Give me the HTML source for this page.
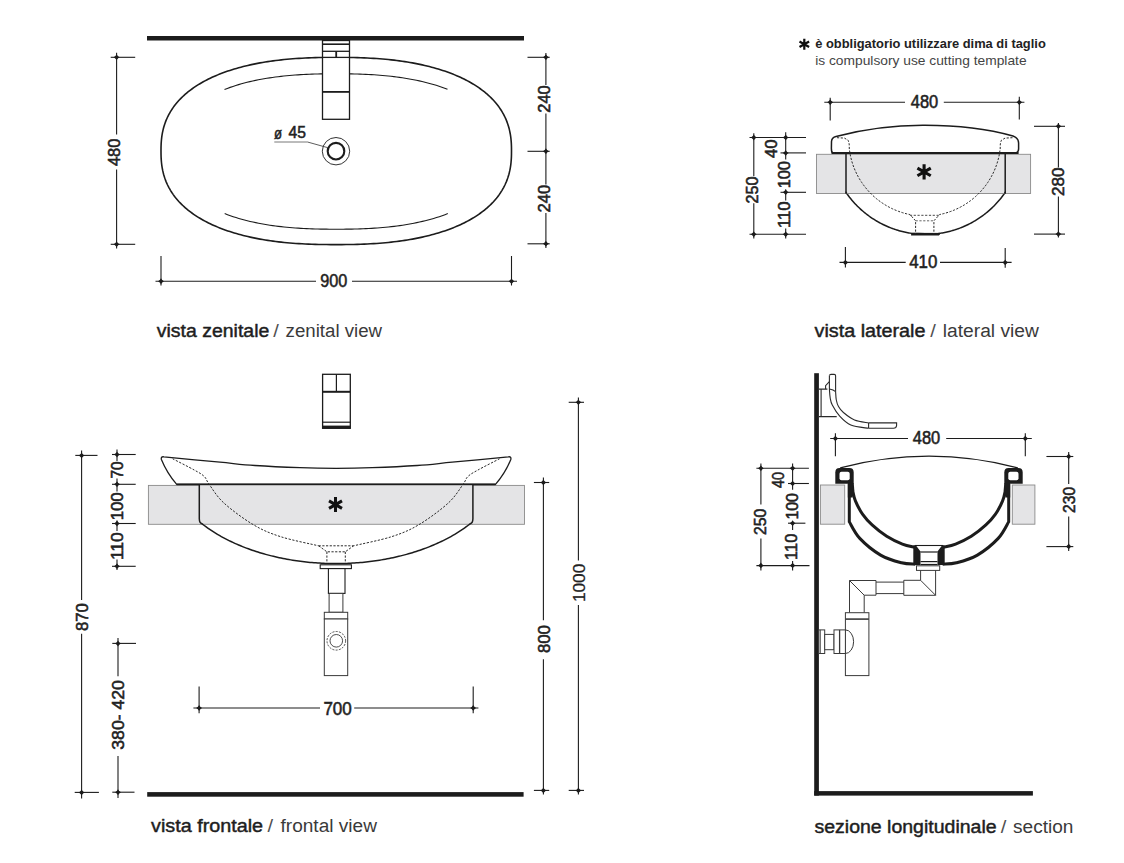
<!DOCTYPE html>
<html><head><meta charset="utf-8"><style>
html,body{margin:0;padding:0;background:#fff;}
svg{display:block;font-family:"Liberation Sans",sans-serif;}
</style></head><body>
<svg width="1124" height="863" viewBox="0 0 1124 863">
<rect width="1124" height="863" fill="#fff"/>
<rect x="147" y="36" width="377" height="4.5" fill="#1c1c1c"/>
<path d="M511.50,151.00 L511.48,153.94 L511.43,156.23 L511.34,158.34 L511.21,160.32 L511.05,162.22 L510.85,164.06 L510.62,165.84 L510.35,167.58 L510.04,169.28 L509.70,170.95 L509.32,172.58 L508.91,174.19 L508.46,175.76 L507.98,177.32 L507.46,178.85 L506.90,180.35 L506.31,181.84 L505.68,183.30 L505.02,184.75 L504.32,186.18 L503.59,187.59 L502.82,188.97 L502.02,190.35 L501.18,191.70 L500.31,193.04 L499.40,194.36 L498.46,195.66 L497.49,196.95 L496.48,198.22 L495.43,199.47 L494.35,200.71 L493.24,201.93 L492.09,203.13 L490.91,204.32 L489.70,205.49 L488.45,206.65 L487.17,207.79 L485.86,208.91 L484.51,210.02 L483.13,211.11 L481.71,212.19 L480.27,213.25 L478.79,214.29 L477.28,215.31 L475.74,216.32 L474.16,217.32 L472.55,218.29 L470.91,219.25 L469.24,220.19 L467.54,221.12 L465.80,222.03 L464.04,222.92 L462.24,223.80 L460.41,224.66 L458.56,225.50 L456.67,226.32 L454.74,227.13 L452.79,227.92 L450.81,228.69 L448.80,229.45 L446.76,230.18 L444.68,230.90 L442.58,231.61 L440.44,232.29 L438.28,232.96 L436.09,233.60 L433.86,234.23 L431.61,234.85 L429.32,235.44 L427.00,236.02 L424.66,236.58 L422.28,237.12 L419.87,237.64 L417.43,238.14 L414.96,238.62 L412.46,239.09 L409.92,239.54 L407.35,239.97 L404.75,240.38 L402.11,240.77 L399.44,241.14 L396.74,241.49 L393.99,241.83 L391.21,242.14 L388.39,242.44 L385.52,242.72 L382.62,242.98 L379.66,243.22 L376.66,243.44 L373.60,243.64 L370.48,243.82 L367.30,243.98 L364.04,244.13 L360.70,244.25 L357.26,244.36 L353.70,244.45 L349.99,244.51 L346.05,244.56 L341.75,244.59 L336.25,244.60 L330.75,244.59 L326.45,244.56 L322.51,244.51 L318.80,244.45 L315.24,244.36 L311.80,244.25 L308.46,244.13 L305.20,243.98 L302.02,243.82 L298.90,243.64 L295.84,243.44 L292.84,243.22 L289.88,242.98 L286.98,242.72 L284.11,242.44 L281.29,242.14 L278.51,241.83 L275.76,241.49 L273.06,241.14 L270.39,240.77 L267.75,240.38 L265.15,239.97 L262.58,239.54 L260.04,239.09 L257.54,238.62 L255.07,238.14 L252.63,237.64 L250.22,237.12 L247.84,236.58 L245.50,236.02 L243.18,235.44 L240.89,234.85 L238.64,234.23 L236.41,233.60 L234.22,232.96 L232.06,232.29 L229.92,231.61 L227.82,230.90 L225.74,230.18 L223.70,229.45 L221.69,228.69 L219.71,227.92 L217.76,227.13 L215.83,226.32 L213.94,225.50 L212.09,224.66 L210.26,223.80 L208.46,222.92 L206.70,222.03 L204.96,221.12 L203.26,220.19 L201.59,219.25 L199.95,218.29 L198.34,217.32 L196.76,216.32 L195.22,215.31 L193.71,214.29 L192.23,213.25 L190.79,212.19 L189.37,211.11 L187.99,210.02 L186.64,208.91 L185.33,207.79 L184.05,206.65 L182.80,205.49 L181.59,204.32 L180.41,203.13 L179.26,201.93 L178.15,200.71 L177.07,199.47 L176.02,198.22 L175.01,196.95 L174.04,195.66 L173.10,194.36 L172.19,193.04 L171.32,191.70 L170.48,190.35 L169.68,188.97 L168.91,187.59 L168.18,186.18 L167.48,184.75 L166.82,183.30 L166.19,181.84 L165.60,180.35 L165.04,178.85 L164.52,177.32 L164.04,175.76 L163.59,174.19 L163.18,172.58 L162.80,170.95 L162.46,169.28 L162.15,167.58 L161.88,165.84 L161.65,164.06 L161.45,162.22 L161.29,160.32 L161.16,158.34 L161.07,156.23 L161.02,153.94 L161.00,151.00 L161.02,148.06 L161.07,145.77 L161.16,143.66 L161.29,141.68 L161.45,139.78 L161.65,137.94 L161.88,136.16 L162.15,134.42 L162.46,132.72 L162.80,131.05 L163.18,129.42 L163.59,127.81 L164.04,126.24 L164.52,124.68 L165.04,123.15 L165.60,121.65 L166.19,120.16 L166.82,118.70 L167.48,117.25 L168.18,115.82 L168.91,114.41 L169.68,113.03 L170.48,111.65 L171.32,110.30 L172.19,108.96 L173.10,107.64 L174.04,106.34 L175.01,105.05 L176.02,103.78 L177.07,102.53 L178.15,101.29 L179.26,100.07 L180.41,98.87 L181.59,97.68 L182.80,96.51 L184.05,95.35 L185.33,94.21 L186.64,93.09 L187.99,91.98 L189.37,90.89 L190.79,89.81 L192.23,88.75 L193.71,87.71 L195.22,86.69 L196.76,85.68 L198.34,84.68 L199.95,83.71 L201.59,82.75 L203.26,81.81 L204.96,80.88 L206.70,79.97 L208.46,79.08 L210.26,78.20 L212.09,77.34 L213.94,76.50 L215.83,75.68 L217.76,74.87 L219.71,74.08 L221.69,73.31 L223.70,72.55 L225.74,71.82 L227.82,71.10 L229.92,70.39 L232.06,69.71 L234.22,69.04 L236.41,68.40 L238.64,67.77 L240.89,67.15 L243.18,66.56 L245.50,65.98 L247.84,65.42 L250.22,64.88 L252.63,64.36 L255.07,63.86 L257.54,63.38 L260.04,62.91 L262.58,62.46 L265.15,62.03 L267.75,61.62 L270.39,61.23 L273.06,60.86 L275.76,60.51 L278.51,60.17 L281.29,59.86 L284.11,59.56 L286.98,59.28 L289.88,59.02 L292.84,58.78 L295.84,58.56 L298.90,58.36 L302.02,58.18 L305.20,58.02 L308.46,57.87 L311.80,57.75 L315.24,57.64 L318.80,57.55 L322.51,57.49 L326.45,57.44 L330.75,57.41 L336.25,57.40 L341.75,57.41 L346.05,57.44 L349.99,57.49 L353.70,57.55 L357.26,57.64 L360.70,57.75 L364.04,57.87 L367.30,58.02 L370.48,58.18 L373.60,58.36 L376.66,58.56 L379.66,58.78 L382.62,59.02 L385.52,59.28 L388.39,59.56 L391.21,59.86 L393.99,60.17 L396.74,60.51 L399.44,60.86 L402.11,61.23 L404.75,61.62 L407.35,62.03 L409.92,62.46 L412.46,62.91 L414.96,63.38 L417.43,63.86 L419.87,64.36 L422.28,64.88 L424.66,65.42 L427.00,65.98 L429.32,66.56 L431.61,67.15 L433.86,67.77 L436.09,68.40 L438.28,69.04 L440.44,69.71 L442.58,70.39 L444.68,71.10 L446.76,71.82 L448.80,72.55 L450.81,73.31 L452.79,74.08 L454.74,74.87 L456.67,75.68 L458.56,76.50 L460.41,77.34 L462.24,78.20 L464.04,79.08 L465.80,79.97 L467.54,80.88 L469.24,81.81 L470.91,82.75 L472.55,83.71 L474.16,84.68 L475.74,85.68 L477.28,86.69 L478.79,87.71 L480.27,88.75 L481.71,89.81 L483.13,90.89 L484.51,91.98 L485.86,93.09 L487.17,94.21 L488.45,95.35 L489.70,96.51 L490.91,97.68 L492.09,98.87 L493.24,100.07 L494.35,101.29 L495.43,102.53 L496.48,103.78 L497.49,105.05 L498.46,106.34 L499.40,107.64 L500.31,108.96 L501.18,110.30 L502.02,111.65 L502.82,113.03 L503.59,114.41 L504.32,115.82 L505.02,117.25 L505.68,118.70 L506.31,120.16 L506.90,121.65 L507.46,123.15 L507.98,124.68 L508.46,126.24 L508.91,127.81 L509.32,129.42 L509.70,131.05 L510.04,132.72 L510.35,134.42 L510.62,136.16 L510.85,137.94 L511.05,139.78 L511.21,141.68 L511.34,143.66 L511.43,145.77 L511.48,148.06 L511.50,151.00 Z" fill="none" stroke="#1c1c1c" stroke-width="1.6"/>
<path d="M224.50,89.51 L227.32,88.41 L230.15,87.38 L232.97,86.41 L235.79,85.49 L238.61,84.63 L241.44,83.81 L244.26,83.05 L247.08,82.32 L249.91,81.64 L252.73,80.99 L255.55,80.38 L258.37,79.81 L261.20,79.27 L264.02,78.77 L266.84,78.30 L269.66,77.85 L272.49,77.44 L275.31,77.05 L278.13,76.69 L280.96,76.36 L283.78,76.05 L286.60,75.77 L289.42,75.50 L292.25,75.26 L295.07,75.05 L297.89,74.85 L300.72,74.67 L303.54,74.51 L306.36,74.37 L309.18,74.25 L312.01,74.15 L314.83,74.06 L317.65,73.98 L320.47,73.92 L323.30,73.88 L326.12,73.84 L328.94,73.82 L331.77,73.81 L334.59,73.80 L337.41,73.80 L340.23,73.80 L343.06,73.82 L345.88,73.84 L348.70,73.87 L351.53,73.91 L354.35,73.97 L357.17,74.04 L359.99,74.13 L362.82,74.23 L365.64,74.35 L368.46,74.49 L371.28,74.64 L374.11,74.82 L376.93,75.01 L379.75,75.22 L382.58,75.46 L385.40,75.72 L388.22,76.00 L391.04,76.30 L393.87,76.63 L396.69,76.99 L399.51,77.37 L402.34,77.78 L405.16,78.22 L407.98,78.68 L410.80,79.18 L413.63,79.71 L416.45,80.28 L419.27,80.88 L422.09,81.52 L424.92,82.20 L427.74,82.91 L430.56,83.68 L433.39,84.48 L436.21,85.34 L439.03,86.24 L441.85,87.20 L444.68,88.22 L447.50,89.31" fill="none" stroke="#1c1c1c" stroke-width="1.1"/>
<path d="M224.70,213.57 L227.52,214.66 L230.35,215.69 L233.17,216.66 L236.00,217.57 L238.82,218.43 L241.64,219.24 L244.47,220.01 L247.29,220.73 L250.12,221.41 L252.94,222.06 L255.76,222.66 L258.59,223.23 L261.41,223.77 L264.24,224.27 L267.06,224.74 L269.88,225.18 L272.71,225.59 L275.53,225.98 L278.36,226.33 L281.18,226.67 L284.01,226.97 L286.83,227.26 L289.65,227.52 L292.48,227.75 L295.30,227.97 L298.13,228.17 L300.95,228.34 L303.77,228.50 L306.60,228.64 L309.42,228.76 L312.25,228.86 L315.07,228.95 L317.89,229.02 L320.72,229.08 L323.54,229.13 L326.37,229.16 L329.19,229.18 L332.01,229.19 L334.84,229.20 L337.66,229.20 L340.49,229.19 L343.31,229.18 L346.13,229.16 L348.96,229.13 L351.78,229.08 L354.61,229.02 L357.43,228.95 L360.25,228.86 L363.08,228.76 L365.90,228.64 L368.73,228.50 L371.55,228.34 L374.37,228.17 L377.20,227.97 L380.02,227.75 L382.85,227.52 L385.67,227.26 L388.49,226.97 L391.32,226.67 L394.14,226.33 L396.97,225.98 L399.79,225.59 L402.62,225.18 L405.44,224.74 L408.26,224.27 L411.09,223.77 L413.91,223.23 L416.74,222.66 L419.56,222.06 L422.38,221.41 L425.21,220.73 L428.03,220.01 L430.86,219.24 L433.68,218.43 L436.50,217.57 L439.33,216.66 L442.15,215.69 L444.98,214.66 L447.80,213.57" fill="none" stroke="#1c1c1c" stroke-width="1.1"/>
<rect x="322.5" y="40.5" width="27" height="78.8" fill="#fff" stroke="#1c1c1c" stroke-width="1.3"/>
<line x1="322.5" y1="44.2" x2="349.5" y2="44.2" stroke="#1c1c1c" stroke-width="1.6" />
<line x1="322.5" y1="51.3" x2="349.5" y2="51.3" stroke="#1c1c1c" stroke-width="1.3" />
<line x1="322.5" y1="57.4" x2="349.5" y2="57.4" stroke="#1c1c1c" stroke-width="1.3" />
<line x1="336.2" y1="51.3" x2="336.2" y2="57.4" stroke="#1c1c1c" stroke-width="1.8" />
<line x1="322.5" y1="91.9" x2="349.5" y2="91.9" stroke="#1c1c1c" stroke-width="1.8" />
<circle cx="336" cy="151.2" r="13.7" fill="none" stroke="#1c1c1c" stroke-width="0.9"/>
<circle cx="336" cy="151.2" r="8.3" fill="none" stroke="#1c1c1c" stroke-width="2.1"/>
<line x1="274.3" y1="142" x2="307.5" y2="142" stroke="#555" stroke-width="0.8" />
<line x1="307.5" y1="142" x2="327.5" y2="147.6" stroke="#333" stroke-width="0.8" />
<text x="274" y="138.6" font-size="16" text-anchor="start" font-weight="normal" fill="#222" stroke="#222" stroke-width="0.55" textLength="8" lengthAdjust="spacingAndGlyphs" >ø</text>
<text x="297.3" y="138.2" font-size="16.96" text-anchor="middle" font-weight="normal" fill="#222" stroke="#222" stroke-width="0.55" textLength="17.4" lengthAdjust="spacingAndGlyphs" >45</text>
<line x1="116.6" y1="52.8" x2="116.6" y2="134.4" stroke="#1c1c1c" stroke-width="1.1" />
<line x1="116.6" y1="169.5" x2="116.6" y2="248.5" stroke="#1c1c1c" stroke-width="1.1" />
<line x1="110.7" y1="57.3" x2="135.2" y2="57.3" stroke="#1c1c1c" stroke-width="1.1" />
<line x1="110.7" y1="244.3" x2="135.2" y2="244.3" stroke="#1c1c1c" stroke-width="1.1" />
<path d="M113.6,57.3 Q115.69999999999999,56.4 116.6,54.3 Q117.5,56.4 119.6,57.3 Q117.5,58.199999999999996 116.6,60.3 Q115.69999999999999,58.199999999999996 113.6,57.3 Z" fill="#1c1c1c"/>
<circle cx="116.6" cy="57.3" r="1.5" fill="#1c1c1c"/>
<path d="M113.6,244.3 Q115.69999999999999,243.4 116.6,241.3 Q117.5,243.4 119.6,244.3 Q117.5,245.20000000000002 116.6,247.3 Q115.69999999999999,245.20000000000002 113.6,244.3 Z" fill="#1c1c1c"/>
<circle cx="116.6" cy="244.3" r="1.5" fill="#1c1c1c"/>
<text x="120.50000000000001" y="152.39999999999998" font-size="17" text-anchor="middle" font-weight="normal" fill="#222" stroke="#222" stroke-width="0.55" textLength="27.4" lengthAdjust="spacingAndGlyphs" transform="rotate(-90 120.50000000000001 152.39999999999998)" >480</text>
<line x1="545.9" y1="53" x2="545.9" y2="85" stroke="#1c1c1c" stroke-width="1.1" />
<line x1="545.9" y1="113.5" x2="545.9" y2="184.5" stroke="#1c1c1c" stroke-width="1.1" />
<line x1="545.9" y1="213" x2="545.9" y2="248" stroke="#1c1c1c" stroke-width="1.1" />
<line x1="527.5" y1="57.3" x2="549.7" y2="57.3" stroke="#1c1c1c" stroke-width="1.1" />
<path d="M542.9,57.3 Q545.0,56.4 545.9,54.3 Q546.8,56.4 548.9,57.3 Q546.8,58.199999999999996 545.9,60.3 Q545.0,58.199999999999996 542.9,57.3 Z" fill="#1c1c1c"/>
<circle cx="545.9" cy="57.3" r="1.5" fill="#1c1c1c"/>
<line x1="527.5" y1="151.3" x2="549.7" y2="151.3" stroke="#1c1c1c" stroke-width="1.1" />
<path d="M542.9,151.3 Q545.0,150.4 545.9,148.3 Q546.8,150.4 548.9,151.3 Q546.8,152.20000000000002 545.9,154.3 Q545.0,152.20000000000002 542.9,151.3 Z" fill="#1c1c1c"/>
<circle cx="545.9" cy="151.3" r="1.5" fill="#1c1c1c"/>
<line x1="527.5" y1="243.8" x2="549.7" y2="243.8" stroke="#1c1c1c" stroke-width="1.1" />
<path d="M542.9,243.8 Q545.0,242.9 545.9,240.8 Q546.8,242.9 548.9,243.8 Q546.8,244.70000000000002 545.9,246.8 Q545.0,244.70000000000002 542.9,243.8 Z" fill="#1c1c1c"/>
<circle cx="545.9" cy="243.8" r="1.5" fill="#1c1c1c"/>
<text x="549.8" y="99.0" font-size="17" text-anchor="middle" font-weight="normal" fill="#222" stroke="#222" stroke-width="0.55" textLength="27.4" lengthAdjust="spacingAndGlyphs" transform="rotate(-90 549.8 99.0)" >240</text>
<text x="549.8" y="198.7" font-size="17" text-anchor="middle" font-weight="normal" fill="#222" stroke="#222" stroke-width="0.55" textLength="27.6" lengthAdjust="spacingAndGlyphs" transform="rotate(-90 549.8 198.7)" >240</text>
<line x1="155.5" y1="281.3" x2="316" y2="281.3" stroke="#1c1c1c" stroke-width="1.1" />
<line x1="352" y1="281.3" x2="517" y2="281.3" stroke="#1c1c1c" stroke-width="1.1" />
<line x1="161" y1="256" x2="161" y2="285.5" stroke="#1c1c1c" stroke-width="1.1" />
<line x1="511.5" y1="256" x2="511.5" y2="285.5" stroke="#1c1c1c" stroke-width="1.1" />
<path d="M158.0,281.3 Q160.1,280.40000000000003 161,278.3 Q161.9,280.40000000000003 164.0,281.3 Q161.9,282.2 161,284.3 Q160.1,282.2 158.0,281.3 Z" fill="#1c1c1c"/>
<circle cx="161" cy="281.3" r="1.5" fill="#1c1c1c"/>
<path d="M508.5,281.3 Q510.6,280.40000000000003 511.5,278.3 Q512.4,280.40000000000003 514.5,281.3 Q512.4,282.2 511.5,284.3 Q510.6,282.2 508.5,281.3 Z" fill="#1c1c1c"/>
<circle cx="511.5" cy="281.3" r="1.5" fill="#1c1c1c"/>
<text x="333.85" y="286.8" font-size="18.33" text-anchor="middle" font-weight="normal" fill="#222" stroke="#222" stroke-width="0.55" textLength="27.1" lengthAdjust="spacingAndGlyphs" >900</text>
<text x="156.8" y="336.6" font-size="18" fill="#1e1e1e" stroke="#1e1e1e" stroke-width="0.45" stroke-linejoin="round" textLength="112.5" lengthAdjust="spacingAndGlyphs">vista zenitale</text>
<text x="273.2" y="336.6" font-size="18" fill="#505050" textLength="5.6" lengthAdjust="spacingAndGlyphs">/</text>
<text x="285.6" y="336.6" font-size="18" fill="#3a3a3a" textLength="96.5" lengthAdjust="spacingAndGlyphs">zenital view</text>
<path d="M804.30,38.74 L804.30,49.86 M799.49,41.52 L809.11,47.08 M799.49,47.08 L809.11,41.52" stroke="#111" stroke-width="2.24" fill="none"/>
<text x="815.2" y="48" font-size="12.8" text-anchor="start" font-weight="bold" fill="#222" textLength="230.6" lengthAdjust="spacingAndGlyphs" >è obbligatorio utilizzare dima di taglio</text>
<text x="815.2" y="64.8" font-size="13.2" text-anchor="start" font-weight="normal" fill="#444" textLength="211.4" lengthAdjust="spacingAndGlyphs" >is compulsory use cutting template</text>
<line x1="824.3" y1="102.3" x2="905" y2="102.3" stroke="#1c1c1c" stroke-width="1.1" />
<line x1="943.8" y1="102.3" x2="1024.4" y2="102.3" stroke="#1c1c1c" stroke-width="1.1" />
<line x1="830.2" y1="97.7" x2="830.2" y2="120.4" stroke="#1c1c1c" stroke-width="1.1" />
<line x1="1019.3" y1="96.7" x2="1019.3" y2="119.4" stroke="#1c1c1c" stroke-width="1.1" />
<path d="M827.2,102.3 Q829.3000000000001,101.39999999999999 830.2,99.3 Q831.1,101.39999999999999 833.2,102.3 Q831.1,103.2 830.2,105.3 Q829.3000000000001,103.2 827.2,102.3 Z" fill="#1c1c1c"/>
<circle cx="830.2" cy="102.3" r="1.5" fill="#1c1c1c"/>
<path d="M1016.3,102.3 Q1018.4,101.39999999999999 1019.3,99.3 Q1020.1999999999999,101.39999999999999 1022.3,102.3 Q1020.1999999999999,103.2 1019.3,105.3 Q1018.4,103.2 1016.3,102.3 Z" fill="#1c1c1c"/>
<circle cx="1019.3" cy="102.3" r="1.5" fill="#1c1c1c"/>
<text x="924.5" y="108.4" font-size="17.78" text-anchor="middle" font-weight="normal" fill="#222" stroke="#222" stroke-width="0.55" textLength="27.4" lengthAdjust="spacingAndGlyphs" >480</text>
<rect x="816.5" y="154.3" width="214.1" height="39.2" fill="#e4e4e6" stroke="#8a8a8a" stroke-width="0.9"/>
<path d="M846.00,192.38 L848.02,195.22 L850.04,197.86 L852.05,200.32 L854.07,202.63 L856.09,204.79 L858.11,206.83 L860.12,208.75 L862.14,210.57 L864.16,212.28 L866.18,213.91 L868.19,215.44 L870.21,216.90 L872.23,218.28 L874.25,219.58 L876.27,220.82 L878.28,221.99 L880.30,223.09 L882.32,224.14 L884.34,225.12 L886.35,226.05 L888.37,226.92 L890.39,227.74 L892.41,228.51 L894.43,229.22 L896.44,229.88 L898.46,230.50 L900.48,231.07 L902.50,231.59 L904.51,232.07 L906.53,232.50 L908.55,232.88 L910.57,233.22 L912.58,233.52 L914.60,233.77 L916.62,233.98 L918.64,234.15 L920.66,234.27 L922.67,234.36 L924.69,234.40 L926.71,234.39 L928.73,234.35 L930.74,234.26 L932.76,234.13 L934.78,233.96 L936.80,233.75 L938.82,233.49 L940.83,233.19 L942.85,232.84 L944.87,232.45 L946.89,232.02 L948.90,231.54 L950.92,231.01 L952.94,230.44 L954.96,229.82 L956.97,229.15 L958.99,228.43 L961.01,227.66 L963.03,226.84 L965.05,225.96 L967.06,225.03 L969.08,224.04 L971.10,222.99 L973.12,221.88 L975.13,220.70 L977.15,219.46 L979.17,218.15 L981.19,216.76 L983.21,215.30 L985.22,213.75 L987.24,212.12 L989.26,210.39 L991.28,208.57 L993.29,206.63 L995.31,204.58 L997.33,202.40 L999.35,200.08 L1001.36,197.60 L1003.38,194.95 L1005.40,192.08" fill="none" stroke="none"/>
<path d="M846.00,193.50 L846.20,192.67 L847.30,194.23 L848.40,195.73 L849.50,197.18 L850.60,198.56 L851.70,199.90 L852.80,201.19 L853.90,202.44 L855.00,203.64 L856.10,204.80 L857.20,205.93 L858.30,207.02 L859.40,208.08 L860.50,209.10 L861.60,210.09 L862.70,211.05 L863.80,211.98 L864.90,212.89 L866.00,213.77 L867.10,214.62 L868.20,215.45 L869.30,216.25 L870.40,217.03 L871.50,217.79 L872.60,218.52 L873.70,219.24 L874.80,219.93 L875.90,220.60 L877.00,221.25 L878.10,221.89 L879.20,222.50 L880.30,223.09 L881.40,223.67 L882.50,224.23 L883.60,224.77 L884.70,225.29 L885.80,225.80 L886.90,226.29 L888.00,226.76 L889.10,227.22 L890.20,227.66 L891.30,228.09 L892.40,228.50 L893.50,228.90 L894.60,229.28 L895.70,229.65 L896.80,230.00 L897.90,230.33 L899.00,230.66 L900.10,230.97 L901.20,231.26 L902.30,231.54 L903.40,231.81 L904.50,232.06 L905.60,232.30 L906.70,232.53 L907.80,232.74 L908.90,232.94 L910.00,233.13 L911.10,233.30 L939.10,234.20 L939.10,233.45 L940.22,233.28 L941.34,233.11 L942.46,232.91 L943.58,232.71 L944.70,232.49 L945.82,232.26 L946.94,232.01 L948.06,231.75 L949.18,231.47 L950.30,231.18 L951.42,230.88 L952.54,230.56 L953.66,230.22 L954.78,229.88 L955.91,229.51 L957.03,229.13 L958.15,228.74 L959.27,228.33 L960.39,227.90 L961.51,227.46 L962.63,227.01 L963.75,226.53 L964.87,226.04 L965.99,225.53 L967.11,225.01 L968.23,224.46 L969.35,223.90 L970.47,223.32 L971.59,222.72 L972.71,222.10 L973.83,221.47 L974.95,220.81 L976.07,220.13 L977.19,219.43 L978.31,218.71 L979.43,217.97 L980.55,217.20 L981.67,216.41 L982.79,215.60 L983.91,214.76 L985.03,213.90 L986.15,213.01 L987.27,212.09 L988.39,211.14 L989.52,210.17 L990.64,209.16 L991.76,208.12 L992.88,207.04 L994.00,205.93 L995.12,204.79 L996.24,203.60 L997.36,202.37 L998.48,201.10 L999.60,199.78 L1000.72,198.42 L1001.84,197.00 L1002.96,195.52 L1004.08,193.98 L1005.20,192.38 L1005.20,193.50" fill="#fff" stroke="#1c1c1c" stroke-width="1.5"/>
<line x1="911.1" y1="234.2" x2="939.1" y2="234.2" stroke="#1c1c1c" stroke-width="2.6" />
<line x1="846.7" y1="193.5" x2="1004.5" y2="193.5" stroke="#8a8a8a" stroke-width="0.9" />
<line x1="846" y1="153" x2="846" y2="193.5" stroke="#1c1c1c" stroke-width="1.5" />
<line x1="1005.2" y1="153" x2="1005.2" y2="193.5" stroke="#1c1c1c" stroke-width="1.5" />
<path d="M833,153 Q831.3,152.5 831.4,148 L831.5,141.5 Q831.8,137.5 836,136.5 Q880,125 925,125.3 Q975,125.5 1013,136 Q1018.6,138 1018.6,143 L1018.6,149 Q1018.5,152.6 1015,153 Z" fill="#fff" stroke="#1c1c1c" stroke-width="1.5"/>
<line x1="831.5" y1="153" x2="1018.6" y2="153" stroke="#1c1c1c" stroke-width="2.0" />
<path d="M837.00,137.70 L844.50,138.10 L848.30,140.50 L849.20,144.00 L849.30,149.13 L850.54,156.38 L851.77,161.22 L853.01,165.09 L854.25,168.38 L855.48,171.28 L856.72,173.88 L857.96,176.26 L859.19,178.45 L860.43,180.48 L861.67,182.39 L862.90,184.17 L864.14,185.85 L865.38,187.44 L866.61,188.95 L867.85,190.38 L869.09,191.75 L870.32,193.05 L871.56,194.29 L872.80,195.47 L874.03,196.60 L875.27,197.69 L876.51,198.73 L877.74,199.72 L878.98,200.67 L880.22,201.59 L881.46,202.46 L882.69,203.30 L883.93,204.11 L885.17,204.88 L886.40,205.62 L887.64,206.32 L888.88,207.00 L890.11,207.65 L891.35,208.27 L892.59,208.86 L893.82,209.42 L895.06,209.96 L896.30,210.47 L897.53,210.96 L898.77,211.42 L900.01,211.86 L901.24,212.27 L902.48,212.66 L903.72,213.03 L904.95,213.38 L906.19,213.70 L907.43,214.00 L908.66,214.28 L909.90,214.54 L915.60,220.80 L915.60,234.00" fill="none" stroke="#2a2a2a" stroke-width="1.0" stroke-dasharray="2.2,1.5"/>
<path d="M1012.50,137.70 L1005.00,138.10 L1001.20,140.50 L1000.30,144.00 L1000.20,149.13 L998.96,156.38 L997.73,161.22 L996.49,165.09 L995.25,168.38 L994.02,171.28 L992.78,173.88 L991.54,176.26 L990.31,178.45 L989.07,180.48 L987.83,182.39 L986.60,184.17 L985.36,185.85 L984.12,187.44 L982.89,188.95 L981.65,190.38 L980.41,191.75 L979.18,193.05 L977.94,194.29 L976.70,195.47 L975.47,196.60 L974.23,197.69 L972.99,198.73 L971.76,199.72 L970.52,200.67 L969.28,201.59 L968.04,202.46 L966.81,203.30 L965.57,204.11 L964.33,204.88 L963.10,205.62 L961.86,206.32 L960.62,207.00 L959.39,207.65 L958.15,208.27 L956.91,208.86 L955.68,209.42 L954.44,209.96 L953.20,210.47 L951.97,210.96 L950.73,211.42 L949.49,211.86 L948.26,212.27 L947.02,212.66 L945.78,213.03 L944.55,213.38 L943.31,213.70 L942.07,214.00 L940.84,214.28 L939.60,214.54 L933.90,220.80 L933.90,234.00" fill="none" stroke="#2a2a2a" stroke-width="1.0" stroke-dasharray="2.2,1.5"/>
<line x1="909.9" y1="215.3" x2="939.6" y2="215.3" stroke="#333" stroke-width="0.9" stroke-dasharray="2.2,1.6"/>
<line x1="915.6" y1="220.8" x2="933.9" y2="220.8" stroke="#555" stroke-width="0.9" stroke-dasharray="2.2,1.6"/>
<path d="M924.10,164.20 L924.10,179.60 M917.43,168.05 L930.77,175.75 M917.43,175.75 L930.77,168.05" stroke="#111" stroke-width="3.10" fill="none"/>
<line x1="753.8" y1="133.2" x2="753.8" y2="176.3" stroke="#1c1c1c" stroke-width="1.1" />
<line x1="753.8" y1="203.3" x2="753.8" y2="238.6" stroke="#1c1c1c" stroke-width="1.1" />
<line x1="749.5" y1="137.5" x2="806" y2="137.5" stroke="#1c1c1c" stroke-width="1.1" />
<line x1="749.5" y1="234.3" x2="806" y2="234.3" stroke="#1c1c1c" stroke-width="1.1" />
<path d="M750.8,137.5 Q752.9,136.6 753.8,134.5 Q754.6999999999999,136.6 756.8,137.5 Q754.6999999999999,138.4 753.8,140.5 Q752.9,138.4 750.8,137.5 Z" fill="#1c1c1c"/>
<circle cx="753.8" cy="137.5" r="1.5" fill="#1c1c1c"/>
<path d="M750.8,234.3 Q752.9,233.4 753.8,231.3 Q754.6999999999999,233.4 756.8,234.3 Q754.6999999999999,235.20000000000002 753.8,237.3 Q752.9,235.20000000000002 750.8,234.3 Z" fill="#1c1c1c"/>
<circle cx="753.8" cy="234.3" r="1.5" fill="#1c1c1c"/>
<text x="758.3" y="190.0" font-size="17" text-anchor="middle" font-weight="normal" fill="#222" stroke="#222" stroke-width="0.55" textLength="27.0" lengthAdjust="spacingAndGlyphs" transform="rotate(-90 758.3 190.0)" >250</text>
<line x1="785.7" y1="132.2" x2="785.7" y2="159.5" stroke="#1c1c1c" stroke-width="1.1" />
<line x1="785.7" y1="189.5" x2="785.7" y2="200.5" stroke="#1c1c1c" stroke-width="1.1" />
<line x1="785.7" y1="228.5" x2="785.7" y2="238.6" stroke="#1c1c1c" stroke-width="1.1" />
<line x1="780.5" y1="152.9" x2="806" y2="152.9" stroke="#1c1c1c" stroke-width="1.1" />
<line x1="780.5" y1="192.3" x2="806" y2="192.3" stroke="#1c1c1c" stroke-width="1.1" />
<path d="M782.7,137.5 Q784.8000000000001,136.6 785.7,134.5 Q786.6,136.6 788.7,137.5 Q786.6,138.4 785.7,140.5 Q784.8000000000001,138.4 782.7,137.5 Z" fill="#1c1c1c"/>
<circle cx="785.7" cy="137.5" r="1.5" fill="#1c1c1c"/>
<path d="M782.7,152.9 Q784.8000000000001,152.0 785.7,149.9 Q786.6,152.0 788.7,152.9 Q786.6,153.8 785.7,155.9 Q784.8000000000001,153.8 782.7,152.9 Z" fill="#1c1c1c"/>
<circle cx="785.7" cy="152.9" r="1.5" fill="#1c1c1c"/>
<path d="M782.7,192.3 Q784.8000000000001,191.4 785.7,189.3 Q786.6,191.4 788.7,192.3 Q786.6,193.20000000000002 785.7,195.3 Q784.8000000000001,193.20000000000002 782.7,192.3 Z" fill="#1c1c1c"/>
<circle cx="785.7" cy="192.3" r="1.5" fill="#1c1c1c"/>
<path d="M782.7,234.3 Q784.8000000000001,233.4 785.7,231.3 Q786.6,233.4 788.7,234.3 Q786.6,235.20000000000002 785.7,237.3 Q784.8000000000001,235.20000000000002 782.7,234.3 Z" fill="#1c1c1c"/>
<circle cx="785.7" cy="234.3" r="1.5" fill="#1c1c1c"/>
<text x="776.7" y="148.8" font-size="17" text-anchor="middle" font-weight="normal" fill="#222" stroke="#222" stroke-width="0.55" textLength="18.6" lengthAdjust="spacingAndGlyphs" transform="rotate(-90 776.7 148.8)" >40</text>
<text x="790.1000000000001" y="174.70000000000005" font-size="17" text-anchor="middle" font-weight="normal" fill="#222" stroke="#222" stroke-width="0.55" textLength="27.2" lengthAdjust="spacingAndGlyphs" transform="rotate(-90 790.1000000000001 174.70000000000005)" >100</text>
<text x="790.1000000000001" y="214.8" font-size="17" text-anchor="middle" font-weight="normal" fill="#222" stroke="#222" stroke-width="0.55" textLength="26.6" lengthAdjust="spacingAndGlyphs" transform="rotate(-90 790.1000000000001 214.8)" >110</text>
<line x1="1058.4" y1="122.9" x2="1058.4" y2="167.5" stroke="#1c1c1c" stroke-width="1.1" />
<line x1="1058.4" y1="196.5" x2="1058.4" y2="237.6" stroke="#1c1c1c" stroke-width="1.1" />
<line x1="1034" y1="126.3" x2="1065" y2="126.3" stroke="#1c1c1c" stroke-width="1.1" />
<line x1="1034" y1="234.1" x2="1065" y2="234.1" stroke="#1c1c1c" stroke-width="1.1" />
<path d="M1055.4,126.3 Q1057.5,125.39999999999999 1058.4,123.3 Q1059.3000000000002,125.39999999999999 1061.4,126.3 Q1059.3000000000002,127.2 1058.4,129.3 Q1057.5,127.2 1055.4,126.3 Z" fill="#1c1c1c"/>
<circle cx="1058.4" cy="126.3" r="1.5" fill="#1c1c1c"/>
<path d="M1055.4,234.1 Q1057.5,233.2 1058.4,231.1 Q1059.3000000000002,233.2 1061.4,234.1 Q1059.3000000000002,235.0 1058.4,237.1 Q1057.5,235.0 1055.4,234.1 Z" fill="#1c1c1c"/>
<circle cx="1058.4" cy="234.1" r="1.5" fill="#1c1c1c"/>
<text x="1064.2" y="181.8" font-size="17" text-anchor="middle" font-weight="normal" fill="#222" stroke="#222" stroke-width="0.55" textLength="28.6" lengthAdjust="spacingAndGlyphs" transform="rotate(-90 1064.2 181.8)" >280</text>
<line x1="839.5" y1="262.4" x2="905.7" y2="262.4" stroke="#1c1c1c" stroke-width="1.1" />
<line x1="940" y1="262.4" x2="1011.6" y2="262.4" stroke="#1c1c1c" stroke-width="1.1" />
<line x1="845.4" y1="247" x2="845.4" y2="267.5" stroke="#1c1c1c" stroke-width="1.1" />
<line x1="1005.2" y1="248" x2="1005.2" y2="267.7" stroke="#1c1c1c" stroke-width="1.1" />
<path d="M842.4,262.4 Q844.5,261.5 845.4,259.4 Q846.3,261.5 848.4,262.4 Q846.3,263.29999999999995 845.4,265.4 Q844.5,263.29999999999995 842.4,262.4 Z" fill="#1c1c1c"/>
<circle cx="845.4" cy="262.4" r="1.5" fill="#1c1c1c"/>
<path d="M1002.2,262.4 Q1004.3000000000001,261.5 1005.2,259.4 Q1006.1,261.5 1008.2,262.4 Q1006.1,263.29999999999995 1005.2,265.4 Q1004.3000000000001,263.29999999999995 1002.2,262.4 Z" fill="#1c1c1c"/>
<circle cx="1005.2" cy="262.4" r="1.5" fill="#1c1c1c"/>
<text x="923.3" y="268.4" font-size="17.78" text-anchor="middle" font-weight="normal" fill="#222" stroke="#222" stroke-width="0.55" textLength="28.2" lengthAdjust="spacingAndGlyphs" >410</text>
<text x="814.5" y="337.3" font-size="18" fill="#1e1e1e" stroke="#1e1e1e" stroke-width="0.45" stroke-linejoin="round" textLength="111" lengthAdjust="spacingAndGlyphs">vista laterale</text>
<text x="930.2" y="337.3" font-size="18" fill="#505050" textLength="5.6" lengthAdjust="spacingAndGlyphs">/</text>
<text x="942.8" y="337.3" font-size="18" fill="#3a3a3a" textLength="96" lengthAdjust="spacingAndGlyphs">lateral view</text>
<rect x="322.6" y="374.3" width="27.7" height="54" fill="#fff" stroke="#1c1c1c" stroke-width="1.3"/>
<line x1="336.4" y1="374.3" x2="336.4" y2="391" stroke="#1c1c1c" stroke-width="1.2" />
<line x1="322.6" y1="391.8" x2="350.3" y2="391.8" stroke="#1c1c1c" stroke-width="2.0" />
<line x1="322.6" y1="422.2" x2="350.3" y2="422.2" stroke="#1c1c1c" stroke-width="1.2" />
<rect x="322.6" y="425.6" width="27.7" height="2.9" fill="#1c1c1c"/>
<rect x="148.4" y="485.4" width="376.1" height="38.9" fill="#e4e4e6" stroke="#8a8a8a" stroke-width="0.9"/>
<path d="M199.3,484.4 L199.3,518.8 Q199.4,523.19 202.0,523.79 L203.93,525.27 L205.86,526.71 L207.79,528.09 L209.72,529.42 L211.65,530.70 L213.58,531.95 L215.51,533.15 L217.44,534.32 L219.37,535.44 L221.29,536.54 L223.22,537.59 L225.15,538.62 L227.08,539.62 L229.01,540.58 L230.94,541.52 L232.87,542.43 L234.80,543.31 L236.73,544.17 L238.66,545.00 L240.59,545.81 L242.52,546.59 L244.45,547.35 L246.38,548.09 L248.31,548.81 L250.24,549.50 L252.17,550.18 L254.10,550.83 L256.03,551.46 L257.96,552.08 L259.88,552.68 L261.81,553.25 L263.74,553.81 L265.67,554.35 L267.60,554.88 L269.53,555.38 L271.46,555.87 L273.39,556.34 L275.32,556.80 L277.25,557.24 L279.18,557.66 L281.11,558.07 L283.04,558.46 L284.97,558.84 L286.90,559.20 L288.83,559.54 L290.76,559.87 L292.69,560.19 L294.62,560.49 L296.55,560.78 L298.47,561.05 L300.40,561.31 L302.33,561.55 L304.26,561.78 L306.19,562.00 L308.12,562.20 L310.05,562.39 L311.98,562.56 L313.91,562.72 L315.84,562.87 L317.77,563.00 L319.70,563.12 L321.63,563.23 L323.56,563.32 L325.49,563.40 L327.42,563.47 L329.35,563.52 L331.28,563.56 L333.21,563.59 L335.14,563.60 L337.06,563.60 L338.99,563.59 L340.92,563.56 L342.85,563.52 L344.78,563.47 L346.71,563.40 L348.64,563.32 L350.57,563.23 L352.50,563.12 L354.43,563.00 L356.36,562.87 L358.29,562.72 L360.22,562.56 L362.15,562.39 L364.08,562.20 L366.01,562.00 L367.94,561.78 L369.87,561.55 L371.80,561.31 L373.73,561.05 L375.65,560.78 L377.58,560.49 L379.51,560.19 L381.44,559.87 L383.37,559.54 L385.30,559.20 L387.23,558.84 L389.16,558.46 L391.09,558.07 L393.02,557.66 L394.95,557.24 L396.88,556.80 L398.81,556.34 L400.74,555.87 L402.67,555.38 L404.60,554.88 L406.53,554.35 L408.46,553.81 L410.39,553.25 L412.32,552.68 L414.24,552.08 L416.17,551.46 L418.10,550.83 L420.03,550.18 L421.96,549.50 L423.89,548.81 L425.82,548.09 L427.75,547.35 L429.68,546.59 L431.61,545.81 L433.54,545.00 L435.47,544.17 L437.40,543.31 L439.33,542.43 L441.26,541.52 L443.19,540.58 L445.12,539.62 L447.05,538.62 L448.98,537.59 L450.91,536.54 L452.83,535.44 L454.76,534.32 L456.69,533.15 L458.62,531.95 L460.55,530.70 L462.48,529.42 L464.41,528.09 L466.34,526.71 L468.27,525.27 L470.20,523.79 Q472.8,523.19 472.9,518.8 L472.9,484.4 Z" fill="#fff" stroke="none"/>
<rect x="199.3" y="485.4" width="273.6" height="38.9" fill="#e4e4e6"/>
<line x1="199.3" y1="524.3" x2="472.9" y2="524.3" stroke="#8a8a8a" stroke-width="0.9" />
<path d="M199.3,484.4 L199.3,518.8 Q199.4,523.19 202.0,523.79 L203.93,525.27 L205.86,526.71 L207.79,528.09 L209.72,529.42 L211.65,530.70 L213.58,531.95 L215.51,533.15 L217.44,534.32 L219.37,535.44 L221.29,536.54 L223.22,537.59 L225.15,538.62 L227.08,539.62 L229.01,540.58 L230.94,541.52 L232.87,542.43 L234.80,543.31 L236.73,544.17 L238.66,545.00 L240.59,545.81 L242.52,546.59 L244.45,547.35 L246.38,548.09 L248.31,548.81 L250.24,549.50 L252.17,550.18 L254.10,550.83 L256.03,551.46 L257.96,552.08 L259.88,552.68 L261.81,553.25 L263.74,553.81 L265.67,554.35 L267.60,554.88 L269.53,555.38 L271.46,555.87 L273.39,556.34 L275.32,556.80 L277.25,557.24 L279.18,557.66 L281.11,558.07 L283.04,558.46 L284.97,558.84 L286.90,559.20 L288.83,559.54 L290.76,559.87 L292.69,560.19 L294.62,560.49 L296.55,560.78 L298.47,561.05 L300.40,561.31 L302.33,561.55 L304.26,561.78 L306.19,562.00 L308.12,562.20 L310.05,562.39 L311.98,562.56 L313.91,562.72 L315.84,562.87 L317.77,563.00 L319.70,563.12 L321.63,563.23 L323.56,563.32 L325.49,563.40 L327.42,563.47 L329.35,563.52 L331.28,563.56 L333.21,563.59 L335.14,563.60 L337.06,563.60 L338.99,563.59 L340.92,563.56 L342.85,563.52 L344.78,563.47 L346.71,563.40 L348.64,563.32 L350.57,563.23 L352.50,563.12 L354.43,563.00 L356.36,562.87 L358.29,562.72 L360.22,562.56 L362.15,562.39 L364.08,562.20 L366.01,562.00 L367.94,561.78 L369.87,561.55 L371.80,561.31 L373.73,561.05 L375.65,560.78 L377.58,560.49 L379.51,560.19 L381.44,559.87 L383.37,559.54 L385.30,559.20 L387.23,558.84 L389.16,558.46 L391.09,558.07 L393.02,557.66 L394.95,557.24 L396.88,556.80 L398.81,556.34 L400.74,555.87 L402.67,555.38 L404.60,554.88 L406.53,554.35 L408.46,553.81 L410.39,553.25 L412.32,552.68 L414.24,552.08 L416.17,551.46 L418.10,550.83 L420.03,550.18 L421.96,549.50 L423.89,548.81 L425.82,548.09 L427.75,547.35 L429.68,546.59 L431.61,545.81 L433.54,545.00 L435.47,544.17 L437.40,543.31 L439.33,542.43 L441.26,541.52 L443.19,540.58 L445.12,539.62 L447.05,538.62 L448.98,537.59 L450.91,536.54 L452.83,535.44 L454.76,534.32 L456.69,533.15 L458.62,531.95 L460.55,530.70 L462.48,529.42 L464.41,528.09 L466.34,526.71 L468.27,525.27 L470.20,523.79 Q472.8,523.19 472.9,518.8 L472.9,484.4" fill="none" stroke="#1c1c1c" stroke-width="1.5"/>
<path d="M163.90,456.80 C173.25,457.70 204.82,460.75 220.00,462.20 C235.18,463.65 241.67,464.58 255.00,465.50 C268.33,466.42 286.48,467.23 300.00,467.70 C313.52,468.17 324.07,468.30 336.10,468.30 C348.13,468.30 358.68,468.17 372.20,467.70 C385.72,467.23 403.87,466.42 417.20,465.50 C430.53,464.58 437.02,463.65 452.20,462.20 C467.38,460.75 498.95,457.70 508.30,456.80 Q511.5,456.3 510.8,459.5 Q505.2,473.2 495.5,484.4 L176.7,484.4 Q167.0,473.2 161.4,459.5 Q160.7,456.3 163.9,456.8 Z" fill="#fff" stroke="#1c1c1c" stroke-width="1.3" stroke-linejoin="round"/>
<line x1="176.7" y1="484.4" x2="495.5" y2="484.4" stroke="#1c1c1c" stroke-width="1.8" />
<path d="M172.70,458.80 C176.32,460.68 189.13,467.15 194.40,470.10 C199.67,473.05 201.83,474.12 204.30,476.50 C206.77,478.88 205.92,479.97 209.20,484.40 C212.48,488.83 216.62,496.37 224.00,503.10 C231.38,509.83 244.05,519.20 253.50,524.80 C262.95,530.40 269.85,533.20 280.70,536.70 C291.55,540.20 312.28,544.28 318.60,545.80" fill="none" stroke="#2a2a2a" stroke-width="1.0" stroke-dasharray="2.2,1.5"/>
<path d="M499.50,458.80 C495.88,460.68 483.07,467.15 477.80,470.10 C472.53,473.05 470.37,474.12 467.90,476.50 C465.43,478.88 466.28,479.97 463.00,484.40 C459.72,488.83 455.58,496.37 448.20,503.10 C440.82,509.83 428.15,519.20 418.70,524.80 C409.25,530.40 402.35,533.20 391.50,536.70 C380.65,540.20 359.92,544.28 353.60,545.80" fill="none" stroke="#2a2a2a" stroke-width="1.0" stroke-dasharray="2.2,1.5"/>
<path d="M318.6,545.8 L353.6,545.8 M318.6,545.8 L326.9,551.8 L345.3,551.8 L353.6,545.8 M326.9,551.8 L326.9,563 M345.3,551.8 L345.3,563" fill="none" stroke="#2a2a2a" stroke-width="1.0" stroke-dasharray="2.2,1.5"/>
<path d="M335.50,497.10 L335.50,512.10 M329.01,500.85 L341.99,508.35 M329.01,508.35 L341.99,500.85" stroke="#111" stroke-width="3.02" fill="none"/>
<rect x="320.2" y="564.8" width="31.2" height="3.8" fill="#fff" stroke="#1c1c1c" stroke-width="1.1"/>
<rect x="328.4" y="568.6" width="16.6" height="24.8" fill="#fff" stroke="#1c1c1c" stroke-width="1.1"/>
<rect x="329.1" y="593.4" width="13.8" height="18.9" fill="#fff" stroke="#3a3a3a" stroke-width="1.0"/>
<rect x="324.3" y="612.3" width="23.4" height="6.7" fill="#fff" stroke="#3a3a3a" stroke-width="1.0"/>
<rect x="324.3" y="619" width="23.4" height="56.6" fill="#fff" stroke="#3a3a3a" stroke-width="1.0"/>
<circle cx="336.3" cy="640.8" r="9.3" fill="none" stroke="#3a3a3a" stroke-width="0.9" stroke-dasharray="2,1.3"/>
<circle cx="336.3" cy="640.8" r="6.3" fill="none" stroke="#3a3a3a" stroke-width="0.9"/>
<line x1="117" y1="449.5" x2="117" y2="461" stroke="#1c1c1c" stroke-width="1.1" />
<line x1="117" y1="478.5" x2="117" y2="491.5" stroke="#1c1c1c" stroke-width="1.1" />
<line x1="117" y1="520.5" x2="117" y2="531" stroke="#1c1c1c" stroke-width="1.1" />
<line x1="117" y1="559.5" x2="117" y2="570" stroke="#1c1c1c" stroke-width="1.1" />
<line x1="112" y1="454.5" x2="135.7" y2="454.5" stroke="#1c1c1c" stroke-width="1.1" />
<path d="M114.0,454.5 Q116.1,453.6 117,451.5 Q117.9,453.6 120.0,454.5 Q117.9,455.4 117,457.5 Q116.1,455.4 114.0,454.5 Z" fill="#1c1c1c"/>
<circle cx="117" cy="454.5" r="1.5" fill="#1c1c1c"/>
<line x1="112" y1="484.3" x2="135.7" y2="484.3" stroke="#1c1c1c" stroke-width="1.1" />
<path d="M114.0,484.3 Q116.1,483.40000000000003 117,481.3 Q117.9,483.40000000000003 120.0,484.3 Q117.9,485.2 117,487.3 Q116.1,485.2 114.0,484.3 Z" fill="#1c1c1c"/>
<circle cx="117" cy="484.3" r="1.5" fill="#1c1c1c"/>
<line x1="112" y1="523.5" x2="135.7" y2="523.5" stroke="#1c1c1c" stroke-width="1.1" />
<path d="M114.0,523.5 Q116.1,522.6 117,520.5 Q117.9,522.6 120.0,523.5 Q117.9,524.4 117,526.5 Q116.1,524.4 114.0,523.5 Z" fill="#1c1c1c"/>
<circle cx="117" cy="523.5" r="1.5" fill="#1c1c1c"/>
<line x1="112" y1="566.3" x2="135.7" y2="566.3" stroke="#1c1c1c" stroke-width="1.1" />
<path d="M114.0,566.3 Q116.1,565.4 117,563.3 Q117.9,565.4 120.0,566.3 Q117.9,567.1999999999999 117,569.3 Q116.1,567.1999999999999 114.0,566.3 Z" fill="#1c1c1c"/>
<circle cx="117" cy="566.3" r="1.5" fill="#1c1c1c"/>
<text x="122.8" y="470.0" font-size="17" text-anchor="middle" font-weight="normal" fill="#222" stroke="#222" stroke-width="0.55" textLength="17.0" lengthAdjust="spacingAndGlyphs" transform="rotate(-90 122.8 470.0)" >70</text>
<text x="123.3" y="506.29999999999995" font-size="17" text-anchor="middle" font-weight="normal" fill="#222" stroke="#222" stroke-width="0.55" textLength="28.0" lengthAdjust="spacingAndGlyphs" transform="rotate(-90 123.3 506.29999999999995)" >100</text>
<text x="123.3" y="546.1999999999998" font-size="17" text-anchor="middle" font-weight="normal" fill="#222" stroke="#222" stroke-width="0.55" textLength="27.8" lengthAdjust="spacingAndGlyphs" transform="rotate(-90 123.3 546.1999999999998)" >110</text>
<line x1="81.6" y1="450.5" x2="81.6" y2="600" stroke="#1c1c1c" stroke-width="1.1" />
<line x1="81.6" y1="633.7" x2="81.6" y2="798.6" stroke="#1c1c1c" stroke-width="1.1" />
<line x1="75.3" y1="455.4" x2="97.5" y2="455.4" stroke="#1c1c1c" stroke-width="1.1" />
<line x1="74.7" y1="792.4" x2="98.9" y2="792.4" stroke="#1c1c1c" stroke-width="1.1" />
<path d="M78.6,455.4 Q80.69999999999999,454.5 81.6,452.4 Q82.5,454.5 84.6,455.4 Q82.5,456.29999999999995 81.6,458.4 Q80.69999999999999,456.29999999999995 78.6,455.4 Z" fill="#1c1c1c"/>
<circle cx="81.6" cy="455.4" r="1.5" fill="#1c1c1c"/>
<path d="M78.6,792.4 Q80.69999999999999,791.5 81.6,789.4 Q82.5,791.5 84.6,792.4 Q82.5,793.3 81.6,795.4 Q80.69999999999999,793.3 78.6,792.4 Z" fill="#1c1c1c"/>
<circle cx="81.6" cy="792.4" r="1.5" fill="#1c1c1c"/>
<text x="87.50000000000001" y="617.0" font-size="17" text-anchor="middle" font-weight="normal" fill="#222" stroke="#222" stroke-width="0.55" textLength="27.8" lengthAdjust="spacingAndGlyphs" transform="rotate(-90 87.50000000000001 617.0)" >870</text>
<line x1="118" y1="638" x2="118" y2="676.3" stroke="#1c1c1c" stroke-width="1.1" />
<line x1="118" y1="756" x2="118" y2="798" stroke="#1c1c1c" stroke-width="1.1" />
<line x1="112.3" y1="643.4" x2="136" y2="643.4" stroke="#1c1c1c" stroke-width="1.1" />
<line x1="112.3" y1="792.2" x2="134.5" y2="792.2" stroke="#1c1c1c" stroke-width="1.1" />
<path d="M115.0,643.4 Q117.1,642.5 118,640.4 Q118.9,642.5 121.0,643.4 Q118.9,644.3 118,646.4 Q117.1,644.3 115.0,643.4 Z" fill="#1c1c1c"/>
<circle cx="118" cy="643.4" r="1.5" fill="#1c1c1c"/>
<path d="M115.0,792.2 Q117.1,791.3000000000001 118,789.2 Q118.9,791.3000000000001 121.0,792.2 Q118.9,793.1 118,795.2 Q117.1,793.1 115.0,792.2 Z" fill="#1c1c1c"/>
<circle cx="118" cy="792.2" r="1.5" fill="#1c1c1c"/>
<text x="123.89999999999999" y="714.9000000000001" font-size="17" text-anchor="middle" font-weight="normal" fill="#222" stroke="#222" stroke-width="0.55" textLength="69.6" lengthAdjust="spacingAndGlyphs" transform="rotate(-90 123.89999999999999 714.9000000000001)" >380- 420</text>
<line x1="193.4" y1="708" x2="320" y2="708" stroke="#1c1c1c" stroke-width="1.1" />
<line x1="354.2" y1="708" x2="478.4" y2="708" stroke="#1c1c1c" stroke-width="1.1" />
<line x1="199.1" y1="686.5" x2="199.1" y2="713.3" stroke="#1c1c1c" stroke-width="1.1" />
<line x1="473.2" y1="686.5" x2="473.2" y2="713.3" stroke="#1c1c1c" stroke-width="1.1" />
<path d="M196.1,708 Q198.2,707.1 199.1,705.0 Q200.0,707.1 202.1,708 Q200.0,708.9 199.1,711.0 Q198.2,708.9 196.1,708 Z" fill="#1c1c1c"/>
<circle cx="199.1" cy="708" r="1.5" fill="#1c1c1c"/>
<path d="M470.2,708 Q472.3,707.1 473.2,705.0 Q474.09999999999997,707.1 476.2,708 Q474.09999999999997,708.9 473.2,711.0 Q472.3,708.9 470.2,708 Z" fill="#1c1c1c"/>
<circle cx="473.2" cy="708" r="1.5" fill="#1c1c1c"/>
<text x="337.6" y="714.6" font-size="18.33" text-anchor="middle" font-weight="normal" fill="#222" stroke="#222" stroke-width="0.55" textLength="28.4" lengthAdjust="spacingAndGlyphs" >700</text>
<line x1="543.4" y1="477.4" x2="543.4" y2="620.3" stroke="#1c1c1c" stroke-width="1.1" />
<line x1="543.4" y1="659.2" x2="543.4" y2="794.6" stroke="#1c1c1c" stroke-width="1.1" />
<line x1="533.9" y1="482.5" x2="549.2" y2="482.5" stroke="#1c1c1c" stroke-width="1.1" />
<line x1="533.9" y1="790.4" x2="549.2" y2="790.4" stroke="#1c1c1c" stroke-width="1.1" />
<path d="M540.4,482.5 Q542.5,481.6 543.4,479.5 Q544.3,481.6 546.4,482.5 Q544.3,483.4 543.4,485.5 Q542.5,483.4 540.4,482.5 Z" fill="#1c1c1c"/>
<circle cx="543.4" cy="482.5" r="1.5" fill="#1c1c1c"/>
<path d="M540.4,790.4 Q542.5,789.5 543.4,787.4 Q544.3,789.5 546.4,790.4 Q544.3,791.3 543.4,793.4 Q542.5,791.3 540.4,790.4 Z" fill="#1c1c1c"/>
<circle cx="543.4" cy="790.4" r="1.5" fill="#1c1c1c"/>
<text x="549.7" y="639.0999999999999" font-size="17" text-anchor="middle" font-weight="normal" fill="#222" stroke="#222" stroke-width="0.55" textLength="28.0" lengthAdjust="spacingAndGlyphs" transform="rotate(-90 549.7 639.0999999999999)" >800</text>
<line x1="578.4" y1="397.4" x2="578.4" y2="560.4" stroke="#1c1c1c" stroke-width="1.1" />
<line x1="578.4" y1="605" x2="578.4" y2="794.6" stroke="#1c1c1c" stroke-width="1.1" />
<line x1="568.7" y1="402.3" x2="584" y2="402.3" stroke="#1c1c1c" stroke-width="1.1" />
<line x1="568.7" y1="790.4" x2="584" y2="790.4" stroke="#1c1c1c" stroke-width="1.1" />
<path d="M575.4,402.3 Q577.5,401.40000000000003 578.4,399.3 Q579.3,401.40000000000003 581.4,402.3 Q579.3,403.2 578.4,405.3 Q577.5,403.2 575.4,402.3 Z" fill="#1c1c1c"/>
<circle cx="578.4" cy="402.3" r="1.5" fill="#1c1c1c"/>
<path d="M575.4,790.4 Q577.5,789.5 578.4,787.4 Q579.3,789.5 581.4,790.4 Q579.3,791.3 578.4,793.4 Q577.5,791.3 575.4,790.4 Z" fill="#1c1c1c"/>
<circle cx="578.4" cy="790.4" r="1.5" fill="#1c1c1c"/>
<text x="584.6000000000001" y="582.9000000000001" font-size="17" text-anchor="middle" font-weight="normal" fill="#222" stroke="#222" stroke-width="0.25" textLength="38.4" lengthAdjust="spacingAndGlyphs" transform="rotate(-90 584.6000000000001 582.9000000000001)" >1000</text>
<rect x="147.2" y="792.1" width="376.4" height="4.6" fill="#1c1c1c"/>
<text x="151.1" y="832.4" font-size="18" fill="#1e1e1e" stroke="#1e1e1e" stroke-width="0.45" stroke-linejoin="round" textLength="112" lengthAdjust="spacingAndGlyphs">vista frontale</text>
<text x="267.4" y="832.4" font-size="18" fill="#505050" textLength="5.6" lengthAdjust="spacingAndGlyphs">/</text>
<text x="280.5" y="832.4" font-size="18" fill="#3a3a3a" textLength="96.4" lengthAdjust="spacingAndGlyphs">frontal view</text>
<rect x="814.2" y="373.2" width="4.7" height="422.4" fill="#1c1c1c"/>
<rect x="814.2" y="791.1" width="218.7" height="4.5" fill="#1c1c1c"/>
<path d="M818.9,389.1 L827.4,389.1 M821.1,389.1 L821.1,416.6 M819,416.6 L836.7,416.6" fill="none" stroke="#2a2a2a" stroke-width="1.1"/>
<path d="M825.6,389.1 L825.6,385.6 L829.4,381.7" fill="none" stroke="#2a2a2a" stroke-width="1.1"/>
<path d="M829.4,375.5 Q829.6,374.4 831,374.4 L834.2,374.4 Q835.6,374.4 835.6,375.8 L835.6,391.7" fill="none" stroke="#2a2a2a" stroke-width="1.1"/>
<path d="M829.4,375.5 L829.4,389" fill="none" stroke="#2a2a2a" stroke-width="1.1"/>
<path d="M829.40,389.00 C829.53,390.50 829.72,395.32 830.20,398.00 C830.68,400.68 830.72,402.07 832.30,405.10 C833.88,408.13 836.62,412.87 839.70,416.20 C842.78,419.53 845.98,423.08 850.80,425.10 C855.62,427.12 865.63,427.77 868.60,428.30" fill="none" stroke="#2a2a2a" stroke-width="1.1"/>
<path d="M835.60,391.70 C835.72,393.08 835.82,397.53 836.30,400.00 C836.78,402.47 837.32,404.42 838.50,406.50 C839.68,408.58 840.73,410.27 843.40,412.50 C846.07,414.73 850.30,418.17 854.50,419.90 C858.70,421.63 866.25,422.40 868.60,422.90" fill="none" stroke="#2a2a2a" stroke-width="1.1"/>
<path d="M829.4,389 Q833.5,389.6 835.6,391.7" fill="none" stroke="#2a2a2a" stroke-width="1.1"/>
<path d="M868.6,422.9 L896.6,422.9 L896.6,425.5 Q896.3,428.3 893.5,428.3 L868.6,428.3 M868.6,422.9 L868.6,428.3" fill="none" stroke="#2a2a2a" stroke-width="1.1"/>
<line x1="830.2" y1="438.5" x2="908" y2="438.5" stroke="#1c1c1c" stroke-width="1.1" />
<line x1="946.2" y1="438.5" x2="1031.8" y2="438.5" stroke="#1c1c1c" stroke-width="1.1" />
<line x1="835.4" y1="433.3" x2="835.4" y2="456.2" stroke="#1c1c1c" stroke-width="1.1" />
<line x1="1025.3" y1="433.3" x2="1025.3" y2="456.2" stroke="#1c1c1c" stroke-width="1.1" />
<path d="M832.4,438.5 Q834.5,437.6 835.4,435.5 Q836.3,437.6 838.4,438.5 Q836.3,439.4 835.4,441.5 Q834.5,439.4 832.4,438.5 Z" fill="#1c1c1c"/>
<circle cx="835.4" cy="438.5" r="1.5" fill="#1c1c1c"/>
<path d="M1022.3,438.5 Q1024.3999999999999,437.6 1025.3,435.5 Q1026.2,437.6 1028.3,438.5 Q1026.2,439.4 1025.3,441.5 Q1024.3999999999999,439.4 1022.3,438.5 Z" fill="#1c1c1c"/>
<circle cx="1025.3" cy="438.5" r="1.5" fill="#1c1c1c"/>
<text x="926.5" y="444.4" font-size="17.78" text-anchor="middle" font-weight="normal" fill="#222" stroke="#222" stroke-width="0.55" textLength="27.4" lengthAdjust="spacingAndGlyphs" >480</text>
<rect x="820.4" y="485" width="24.3" height="39.2" fill="#e4e4e6" stroke="#8a8a8a" stroke-width="0.9"/>
<rect x="1012.3" y="485" width="22.6" height="39.2" fill="#e4e4e6" stroke="#8a8a8a" stroke-width="0.9"/>
<path d="M840.2,467.9 Q929,444.5 1017.8,467.9" fill="none" stroke="#1c1c1c" stroke-width="1.2"/>
<path d="M849.3,484 L849.3,521.8 " fill="none"/>
<path d="M849.30,484 L849.30,521.8 C851.05,524.57 854.58,532.85 859.80,538.40 C865.02,543.95 873.65,551.03 880.60,555.10 C887.55,559.17 895.70,561.28 901.50,562.80 C907.30,564.32 913.08,563.97 915.40,564.20" fill="none" stroke="#1c1c1c" stroke-width="3"/>
<path d="M851.50,483.50 C851.68,484.58 851.95,487.10 852.60,490.00 C853.25,492.90 853.72,496.83 855.40,500.90 C857.08,504.97 859.92,510.40 862.70,514.40 C865.48,518.40 868.10,521.25 872.10,524.90 C876.10,528.55 881.65,533.10 886.70,536.30 C891.75,539.50 897.77,542.27 902.40,544.10 C907.03,545.93 912.48,546.77 914.50,547.30" fill="none" stroke="#1c1c1c" stroke-width="3"/>
<path d="M1008.7,484 L1008.7,521.8 " fill="none"/>
<path d="M1008.70,484 L1008.70,521.8 C1006.95,524.57 1003.42,532.85 998.20,538.40 C992.98,543.95 984.35,551.03 977.40,555.10 C970.45,559.17 962.30,561.28 956.50,562.80 C950.70,564.32 944.92,563.97 942.60,564.20" fill="none" stroke="#1c1c1c" stroke-width="3"/>
<path d="M1006.50,483.50 C1006.32,484.58 1006.05,487.10 1005.40,490.00 C1004.75,492.90 1004.28,496.83 1002.60,500.90 C1000.92,504.97 998.08,510.40 995.30,514.40 C992.52,518.40 989.90,521.25 985.90,524.90 C981.90,528.55 976.35,533.10 971.30,536.30 C966.25,539.50 960.23,542.27 955.60,544.10 C950.97,545.93 945.52,546.77 943.50,547.30" fill="none" stroke="#1c1c1c" stroke-width="3"/>
<path d="M847.8,483 L853.7,483 L854.3,490 L852.5,497.5 L847.8,497.5 Z" fill="#1c1c1c"/>
<path d="M1010.2,483 L1004.3,483 L1003.7,490 L1005.5,497.5 L1010.2,497.5 Z" fill="#1c1c1c"/>
<path d="M835.3,483.7 L835.3,472.4 Q835.3,468.1 839.6,468.1 L849.4,468.1 Q853.7,468.1 853.7,472.4 L853.7,483.7 Z" fill="#1c1c1c"/>
<rect x="839.5" y="471.8" width="10.2" height="8.4" rx="2" fill="#fff"/>
<path d="M1022.7,483.7 L1022.7,472.4 Q1022.7,468.1 1018.4,468.1 L1008.6,468.1 Q1004.3,468.1 1004.3,472.4 L1004.3,483.7 Z" fill="#1c1c1c"/>
<rect x="1008.3" y="471.8" width="10.2" height="8.4" rx="2" fill="#fff"/>
<path d="M914.5,545.5 L943.5,545.5" stroke="#1c1c1c" stroke-width="1.1"/>
<path d="M913.3,545.5 L916,545.5 L920.5,551.5 L920.5,565 L913.3,565 Z" fill="#1c1c1c"/>
<path d="M944.7,545.5 L942,545.5 L937.5,551.5 L937.5,565 L944.7,565 Z" fill="#1c1c1c"/>
<line x1="920.5" y1="552" x2="937.5" y2="552" stroke="#1c1c1c" stroke-width="1.2" />
<line x1="920.5" y1="561.6" x2="937.5" y2="561.6" stroke="#1c1c1c" stroke-width="1.2" />
<line x1="920.5" y1="564.5" x2="937.5" y2="564.5" stroke="#1c1c1c" stroke-width="1.2" />
<rect x="916.5" y="565.8" width="23.2" height="4.6" fill="#fff" stroke="#3a3a3a" stroke-width="1.0"/>
<path d="M920.6,570.4 L920.6,580.3 L903.8,580.3 L903.8,595.3 L935.6,595.3 L935.6,570.4 M920.6,580.3 L935.6,595.3" fill="none" stroke="#3a3a3a" stroke-width="1.0"/>
<path d="M876,582.1 L903.8,582.1 M876,593.6 L903.8,593.6" fill="none" stroke="#3a3a3a" stroke-width="1.0"/>
<path d="M849.5,580.5 L876,580.5 L876,595.2 L864.2,595.2 L864.2,612.7 M849.5,580.5 L849.5,612.7 M849.5,580.5 L864.2,595.2" fill="none" stroke="#3a3a3a" stroke-width="1.0"/>
<rect x="845.4" y="612.7" width="23.5" height="62.9" fill="#fff" stroke="#3a3a3a" stroke-width="1.0"/>
<line x1="845.4" y1="619.1" x2="868.9" y2="619.1" stroke="#3a3a3a" stroke-width="1.6" />
<rect x="818.9" y="629.9" width="5.8" height="23.6" fill="#fff" stroke="#3a3a3a" stroke-width="1.0"/>
<line x1="820.4" y1="629.9" x2="820.4" y2="653.5" stroke="#3a3a3a" stroke-width="0.8" />
<rect x="824.7" y="634.4" width="9.3" height="15.3" fill="#fff" stroke="#3a3a3a" stroke-width="1.0"/>
<rect x="834" y="629.9" width="11.4" height="23.6" fill="#fff" stroke="#3a3a3a" stroke-width="1.0"/>
<line x1="839.6" y1="629.9" x2="839.6" y2="653.5" stroke="#3a3a3a" stroke-width="1.3" />
<path d="M845.4,629.9 A8.2,11.8 0 0 1 845.4,653.5" fill="none" stroke="#3a3a3a" stroke-width="1.0"/>
<line x1="760.9" y1="463.5" x2="760.9" y2="504.4" stroke="#1c1c1c" stroke-width="1.1" />
<line x1="760.9" y1="538.5" x2="760.9" y2="570.5" stroke="#1c1c1c" stroke-width="1.1" />
<line x1="756.4" y1="468.2" x2="808.9" y2="468.2" stroke="#1c1c1c" stroke-width="1.1" />
<line x1="756.4" y1="565.6" x2="809.5" y2="565.6" stroke="#1c1c1c" stroke-width="1.1" />
<path d="M757.9,468.2 Q760.0,467.3 760.9,465.2 Q761.8,467.3 763.9,468.2 Q761.8,469.09999999999997 760.9,471.2 Q760.0,469.09999999999997 757.9,468.2 Z" fill="#1c1c1c"/>
<circle cx="760.9" cy="468.2" r="1.5" fill="#1c1c1c"/>
<path d="M757.9,565.6 Q760.0,564.7 760.9,562.6 Q761.8,564.7 763.9,565.6 Q761.8,566.5 760.9,568.6 Q760.0,566.5 757.9,565.6 Z" fill="#1c1c1c"/>
<circle cx="760.9" cy="565.6" r="1.5" fill="#1c1c1c"/>
<text x="766.4000000000001" y="521.9000000000001" font-size="17" text-anchor="middle" font-weight="normal" fill="#222" stroke="#222" stroke-width="0.55" textLength="26.4" lengthAdjust="spacingAndGlyphs" transform="rotate(-90 766.4000000000001 521.9000000000001)" >250</text>
<line x1="792.6" y1="463.5" x2="792.6" y2="489.8" stroke="#1c1c1c" stroke-width="1.1" />
<line x1="792.6" y1="521" x2="792.6" y2="530.1" stroke="#1c1c1c" stroke-width="1.1" />
<line x1="792.6" y1="561" x2="792.6" y2="570.5" stroke="#1c1c1c" stroke-width="1.1" />
<line x1="788" y1="483.5" x2="808.9" y2="483.5" stroke="#1c1c1c" stroke-width="1.1" />
<line x1="788" y1="523.2" x2="805.4" y2="523.2" stroke="#1c1c1c" stroke-width="1.1" />
<path d="M789.6,468.2 Q791.7,467.3 792.6,465.2 Q793.5,467.3 795.6,468.2 Q793.5,469.09999999999997 792.6,471.2 Q791.7,469.09999999999997 789.6,468.2 Z" fill="#1c1c1c"/>
<circle cx="792.6" cy="468.2" r="1.5" fill="#1c1c1c"/>
<path d="M789.6,483.5 Q791.7,482.6 792.6,480.5 Q793.5,482.6 795.6,483.5 Q793.5,484.4 792.6,486.5 Q791.7,484.4 789.6,483.5 Z" fill="#1c1c1c"/>
<circle cx="792.6" cy="483.5" r="1.5" fill="#1c1c1c"/>
<path d="M789.6,523.2 Q791.7,522.3000000000001 792.6,520.2 Q793.5,522.3000000000001 795.6,523.2 Q793.5,524.1 792.6,526.2 Q791.7,524.1 789.6,523.2 Z" fill="#1c1c1c"/>
<circle cx="792.6" cy="523.2" r="1.5" fill="#1c1c1c"/>
<path d="M789.6,565.6 Q791.7,564.7 792.6,562.6 Q793.5,564.7 795.6,565.6 Q793.5,566.5 792.6,568.6 Q791.7,566.5 789.6,565.6 Z" fill="#1c1c1c"/>
<circle cx="792.6" cy="565.6" r="1.5" fill="#1c1c1c"/>
<text x="783.7" y="479.9" font-size="17" text-anchor="middle" font-weight="normal" fill="#222" stroke="#222" stroke-width="0.55" textLength="16.0" lengthAdjust="spacingAndGlyphs" transform="rotate(-90 783.7 479.9)" >40</text>
<text x="797.8" y="506.29999999999995" font-size="17" text-anchor="middle" font-weight="normal" fill="#222" stroke="#222" stroke-width="0.55" textLength="26.4" lengthAdjust="spacingAndGlyphs" transform="rotate(-90 797.8 506.29999999999995)" >100</text>
<text x="797.3" y="546.8000000000002" font-size="17" text-anchor="middle" font-weight="normal" fill="#222" stroke="#222" stroke-width="0.55" textLength="26.2" lengthAdjust="spacingAndGlyphs" transform="rotate(-90 797.3 546.8000000000002)" >110</text>
<line x1="1068.7" y1="452" x2="1068.7" y2="484" stroke="#1c1c1c" stroke-width="1.1" />
<line x1="1068.7" y1="516.5" x2="1068.7" y2="551" stroke="#1c1c1c" stroke-width="1.1" />
<line x1="1046.4" y1="456.5" x2="1073.3" y2="456.5" stroke="#1c1c1c" stroke-width="1.1" />
<line x1="1046.4" y1="546.6" x2="1073.3" y2="546.6" stroke="#1c1c1c" stroke-width="1.1" />
<path d="M1065.7,456.5 Q1067.8,455.6 1068.7,453.5 Q1069.6000000000001,455.6 1071.7,456.5 Q1069.6000000000001,457.4 1068.7,459.5 Q1067.8,457.4 1065.7,456.5 Z" fill="#1c1c1c"/>
<circle cx="1068.7" cy="456.5" r="1.5" fill="#1c1c1c"/>
<path d="M1065.7,546.6 Q1067.8,545.7 1068.7,543.6 Q1069.6000000000001,545.7 1071.7,546.6 Q1069.6000000000001,547.5 1068.7,549.6 Q1067.8,547.5 1065.7,546.6 Z" fill="#1c1c1c"/>
<circle cx="1068.7" cy="546.6" r="1.5" fill="#1c1c1c"/>
<text x="1075.5000000000002" y="499.9000000000001" font-size="17" text-anchor="middle" font-weight="normal" fill="#222" stroke="#222" stroke-width="0.55" textLength="26.0" lengthAdjust="spacingAndGlyphs" transform="rotate(-90 1075.5000000000002 499.9000000000001)" >230</text>
<text x="814.5" y="832.6" font-size="18" fill="#1e1e1e" stroke="#1e1e1e" stroke-width="0.45" stroke-linejoin="round" textLength="182.1" lengthAdjust="spacingAndGlyphs">sezione longitudinale</text>
<text x="1000.7" y="832.6" font-size="18" fill="#505050" textLength="5.6" lengthAdjust="spacingAndGlyphs">/</text>
<text x="1013" y="832.6" font-size="18" fill="#3a3a3a" textLength="60.4" lengthAdjust="spacingAndGlyphs">section</text>
</svg></body></html>
